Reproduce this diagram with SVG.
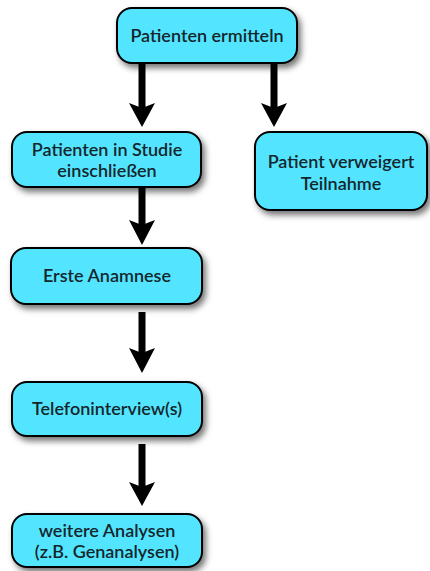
<svg xmlns="http://www.w3.org/2000/svg" width="430" height="571" viewBox="0 0 430 571">
<defs>
<filter id="sh" x="-10%" y="-20%" width="130%" height="150%">
<feDropShadow dx="3" dy="4" stdDeviation="3" flood-color="#000" flood-opacity="0.55"/>
</filter>
</defs>
<style>
.box{fill:#52e5ff;stroke:#000;stroke-width:2;filter:url(#sh)}
.t{font-family:Lato,"Open Sans",sans-serif;font-size:18px;font-weight:600;fill:#14262c;text-anchor:middle}
.c{stroke:#000;stroke-width:7;fill:none}
.h{fill:#000}
</style>
<g id="connectors">
<line class="c" x1="142" y1="63" x2="142" y2="112"/>
<path class="h" d="M129,103 L142,108 L155,103 L142,127 Z"/>
<line class="c" x1="274" y1="63" x2="274" y2="112"/>
<path class="h" d="M261,103 L274,108 L287,103 L274,127 Z"/>
<line class="c" x1="142" y1="184" x2="142" y2="230"/>
<path class="h" d="M129,220 L142,225 L155,220 L142,245 Z"/>
<line class="c" x1="142" y1="312" x2="142" y2="358"/>
<path class="h" d="M129,348 L142,353 L155,348 L142,373 Z"/>
<line class="c" x1="142" y1="444" x2="142" y2="490"/>
<path class="h" d="M129,482 L142,487 L155,482 L142,506 Z"/>
</g>
<g id="n1">
<rect class="box" x="117" y="8" width="180" height="55" rx="15"/>
<text class="t" x="207" y="42">Patienten ermitteln</text>
</g>
<g id="n2">
<rect class="box" x="12" y="132" width="189" height="55" rx="15"/>
<text class="t" x="107" y="156">Patienten in Studie</text>
<text class="t" x="107" y="177">einschließen</text>
</g>
<g id="n3">
<rect class="box" x="255" y="132" width="172" height="78" rx="15"/>
<text class="t" x="341" y="168">Patient verweigert</text>
<text class="t" x="341" y="190">Teilnahme</text>
</g>
<g id="n4">
<rect class="box" x="11" y="248" width="191" height="56" rx="15"/>
<text class="t" x="107" y="282">Erste Anamnese</text>
</g>
<g id="n5">
<rect class="box" x="12" y="382" width="190" height="54" rx="15"/>
<text class="t" x="107" y="415">Telefoninterview(s)</text>
</g>
<g id="n6">
<rect class="box" x="12" y="514" width="190" height="53" rx="15"/>
<text class="t" x="107" y="537">weitere Analysen</text>
<text class="t" x="107" y="558">(z.B. Genanalysen)</text>
</g>
</svg>
